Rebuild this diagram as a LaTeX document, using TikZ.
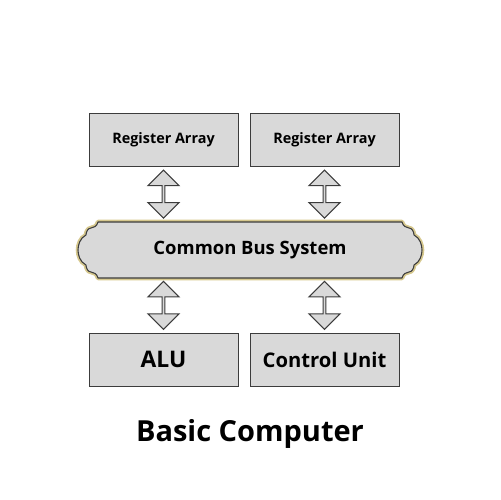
\documentclass[tikz,border=0pt]{standalone}
\usepackage{fontspec}
\setmainfont{Open Sans}
\usetikzlibrary{shapes.arrows, calc}
\definecolor{boxgray}{HTML}{D9D9D9}
\definecolor{edgegray}{HTML}{3C3C3C}
\definecolor{busgold}{HTML}{D6C88E}

\begin{document}
\begin{tikzpicture}[x=0.02cm, y=-0.02cm,
    unitbox/.style={rectangle, draw=edgegray, fill=boxgray, line width=0.5pt,
        minimum width=2.98cm, minimum height=1.06cm, inner sep=0pt, font=\bfseries},
    busarrow/.style={double arrow, rotate=90, draw=edgegray, fill=boxgray, line width=0.6pt,
        minimum height=0.96cm, minimum width=0.62cm, inner sep=0pt,
        double arrow head extend=0.11cm}]
    \useasboundingbox (0,0) rectangle (500,500); % Fixed page size

    % Top and bottom units
    \node [unitbox, font=\bfseries\fontsize{8.2}{10}\selectfont] (regleft) at (163.5,139.5) {Register Array};
    \node [unitbox, font=\bfseries\fontsize{8.2}{10}\selectfont] (regright) at (324.5,139.5) {Register Array};
    \node [unitbox, font=\bfseries\fontsize{13}{15}\selectfont] (alu) at (163.5,359.5) {ALU};
    \node [unitbox, font=\bfseries\fontsize{11.5}{14}\selectfont] (cu) at (324.5,359.5) {Control Unit};

    % Bus with scroll ends
    \def\busoutline{(98,222) -- (402,222)
        .. controls (403,226) and (406,228) .. (409,228)
        .. controls (412,228) and (414,232) .. (414,235)
        .. controls (420,238) and (422,245) .. (422,250)
        .. controls (422,255) and (420,262) .. (414,265)
        .. controls (414,268) and (412,272) .. (409,272)
        .. controls (406,272) and (403,274) .. (402,278)
        -- (98,278)
        .. controls (97,274) and (94,272) .. (91,272)
        .. controls (88,272) and (86,268) .. (86,265)
        .. controls (80,262) and (78,255) .. (78,250)
        .. controls (78,245) and (80,238) .. (86,235)
        .. controls (86,232) and (88,228) .. (91,228)
        .. controls (94,228) and (97,226) .. cycle}
    \draw [busgold, line width=2.6pt, line join=round] \busoutline;
    \draw [edgegray, fill=boxgray, line width=0.6pt, line join=round] \busoutline;
    \node [font=\bfseries\fontsize{10.5}{12}\selectfont] (bus) at (250,250) {Common Bus System};

    % Two-way transfers
    \node [busarrow] (arrowa) at ($(regleft.south)!0.5!(regleft.south |- 0,222)$) {};
    \node [busarrow] (arrowb) at ($(regright.south)!0.5!(regright.south |- 0,222)$) {};
    \node [busarrow] (arrowc) at ($(alu.north)!0.5!(alu.north |- 0,278)$) {};
    \node [busarrow] (arrowd) at ($(cu.north)!0.5!(cu.north |- 0,278)$) {};

    \node [font=\bfseries\fontsize{16.5}{20}\selectfont] (title) at (250,434) {Basic Computer};
\end{tikzpicture}
\end{document}
